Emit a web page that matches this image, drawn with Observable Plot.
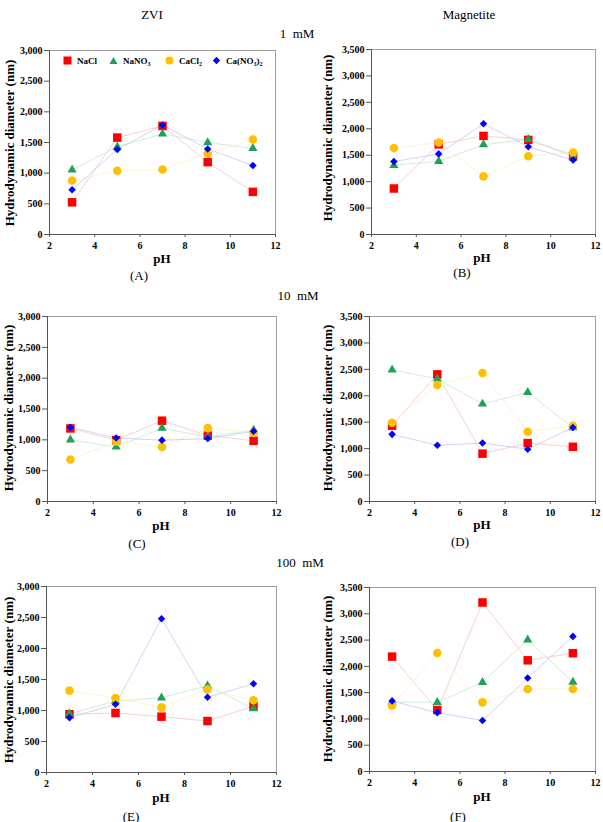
<!DOCTYPE html>
<html><head><meta charset="utf-8">
<script src="https://cdn.jsdelivr.net/npm/d3@7"></script>
<script src="https://cdn.jsdelivr.net/npm/@observablehq/plot@0.6"></script>
<style>
body{margin:0;background:#fff;}
#root{position:relative;width:603px;height:822px;overflow:hidden;font-family:"Liberation Serif","Times New Roman",serif;color:#000;}
#root svg text{font-family:"Liberation Serif","Times New Roman",serif !important;}
.t{position:absolute;transform:translate(-50%,-50%);white-space:nowrap;line-height:1;width:max-content;}
.yl{position:absolute;transform:translate(-50%,-50%) rotate(-90deg);white-space:nowrap;width:max-content;font-weight:bold;font-size:13px;line-height:1;}
.p{position:absolute;}
.leg{position:absolute;font-weight:bold;font-size:9px;white-space:nowrap;line-height:1;width:max-content;}
</style></head><body><div id="root"></div>
<script>
// ---- data ----
const pH = [3, 5, 7, 9, 11];
const salts = ["NaCl", "NaNO3", "CaCl2", "Ca(NO3)2"];
const saltColors = ["#ff0000", "#1ea152", "#ffc000", "#0000ff"];
const lineColors = ["#f8c4c4", "#c2e8cf", "#fff0c6", "#c6c6f6"];
const panelLabels = ["(A)", "(B)", "(C)", "(D)", "(E)", "(F)"];
const columnTitles = ["ZVI", "Magnetite"];
const rowTitles = ["1  mM", "10  mM", "100  mM"];

// Panel A: ZVI, 1 mM
const A_NaCl = [525, 1580, 1770, 1180, 695];
const A_NaNO3 = [1055, 1430, 1640, 1500, 1405];
const A_CaCl2 = [880, 1040, 1060, 1320, 1550];
const A_CaNO32 = [730, 1385, 1785, 1395, 1125];
// Panel B: Magnetite, 1 mM
const B_NaCl = [870, 1705, 1865, 1790, 1480];
const B_NaNO3 = [1310, 1385, 1700, 1800, 1500];
const B_CaCl2 = [1635, 1740, 1100, 1480, 1550];
const B_CaNO32 = [1380, 1525, 2095, 1660, 1410];
// Panel C: ZVI, 10 mM
const C_NaCl = [1185, 995, 1310, 1070, 985];
const C_NaNO3 = [1000, 885, 1190, 1045, 1160];
const C_CaCl2 = [680, 975, 885, 1190, 1115];
const C_CaNO32 = [1205, 1030, 995, 1020, 1140];
// Panel D: Magnetite, 10 mM
const D_NaCl = [1435, 2405, 905, 1105, 1035];
const D_NaNO3 = [2490, 2320, 1845, 2065, 1400];
const D_CaCl2 = [1490, 2205, 2430, 1320, 1430];
const D_CaNO32 = [1270, 1065, 1105, 990, 1400];
// Panel E: ZVI, 100 mM
const E_NaCl = [940, 960, 900, 830, 1070];
const E_NaNO3 = [945, 1150, 1205, 1400, 1030];
const E_CaCl2 = [1320, 1200, 1050, 1340, 1165];
const E_CaNO32 = [885, 1100, 2480, 1215, 1430];
// Panel F: Magnetite, 100 mM
const F_NaCl = [2185, 1170, 3215, 2115, 2250];
const F_NaNO3 = [1320, 1315, 1695, 2505, 1700];
const F_CaCl2 = [1250, 2255, 1315, 1570, 1570];
const F_CaNO32 = [1340, 1120, 970, 1780, 2570];

const xTicks = [2, 4, 6, 8, 10, 12];
const symbols = ["square", "triangle", "circle", "diamond2"];
const symR = [4.8, 3.4, 4.3, 3.4];

const root = document.getElementById("root");
const FONT = "'Liberation Serif','Times New Roman',serif";

function addText(txt, x, y, size, bold, cls) {
  const d = document.createElement("div");
  d.className = cls || "t";
  d.style.left = x + "px"; d.style.top = y + "px";
  if (size) d.style.fontSize = size + "px";
  if (bold) d.style.fontWeight = "bold";
  d.innerHTML = txt;
  root.appendChild(d);
  return d;
}

function panel(series, ymax, g) {
  const rows = [];
  series.forEach((arr, i) => arr.forEach((v, j) => rows.push({pH: pH[j], d: v, s: i})));
  const marks = [
    Plot.frame({stroke: "#a0a0a0", strokeWidth: 1}),
    Plot.ruleX([2], {stroke: "#555", strokeWidth: 1}),
    Plot.ruleY([0], {stroke: "#555", strokeWidth: 1}),
    Plot.axisY({ticks: d3.range(0, ymax + 1, 500), tickFormat: d3.format(","), tickSize: 5, tickPadding: 2,
      fontWeight: "bold", fontSize: 10, label: null, stroke: "#555", fontFamily: FONT}),
    Plot.axisX({ticks: xTicks, tickSize: 3, tickPadding: 4, fontWeight: "bold", fontSize: 10, label: null, stroke: "#555", fontFamily: FONT})
  ];
  series.forEach((arr, i) => {
    const dd = rows.filter(r => r.s === i);
    marks.push(Plot.line(dd, {x: "pH", y: "d", stroke: lineColors[i], strokeWidth: 0.8}));
  });
  series.forEach((arr, i) => {
    const dd = rows.filter(r => r.s === i);
    marks.push(Plot.dot(dd, {x: "pH", y: "d", symbol: () => symbols[i], r: symR[i], fill: saltColors[i], stroke: "none"}));
  });
  const svg = Plot.plot({
    width: g.w, height: 230,
    marginLeft: g.ml, marginRight: g.mr, marginTop: g.mt, marginBottom: g.mb,
    style: `font-family: ${FONT}; color: #000; background: transparent; overflow: visible;`,
    x: {domain: [2, 12]},
    y: {domain: [0, ymax]},
    symbol: {type: "identity"},
    marks
  });
  const wrap = document.createElement("div");
  wrap.className = "p";
  wrap.style.left = g.left + "px"; wrap.style.top = g.top + "px";
  wrap.appendChild(svg);
  root.appendChild(wrap);
}

const geoms = [
  {left: 0, top: 40, w: 300, ml: 49, mr: 25, mt: 10, mb: 36},
  {left: 300, top: 40, w: 303, ml: 71, mr: 8, mt: 9, mb: 36},
  {left: 0, top: 305, w: 300, ml: 47, mr: 24, mt: 11, mb: 34},
  {left: 300, top: 305, w: 303, ml: 69, mr: 8, mt: 11, mb: 34},
  {left: 0, top: 576, w: 300, ml: 46, mr: 24, mt: 10, mb: 34},
  {left: 300, top: 576, w: 303, ml: 69, mr: 8, mt: 11, mb: 35}
];
const panelData = [
  [A_NaCl, A_NaNO3, A_CaCl2, A_CaNO32],
  [B_NaCl, B_NaNO3, B_CaCl2, B_CaNO32],
  [C_NaCl, C_NaNO3, C_CaCl2, C_CaNO32],
  [D_NaCl, D_NaNO3, D_CaCl2, D_CaNO32],
  [E_NaCl, E_NaNO3, E_CaCl2, E_CaNO32],
  [F_NaCl, F_NaNO3, F_CaCl2, F_CaNO32]
];
const ymaxes = [3000, 3500, 3000, 3500, 3000, 3500];
panelData.forEach((s, k) => panel(s, ymaxes[k], geoms[k]));

// titles
addText(columnTitles[0], 152, 14, 13);
addText(columnTitles[1], 469, 14, 13);
addText(rowTitles[0].replace(/ /g, "&nbsp;"), 297, 33, 13);
addText(rowTitles[1].replace(/ /g, "&nbsp;"), 298, 295, 13);
addText(rowTitles[2].replace(/ /g, "&nbsp;"), 300, 562, 13);

// y labels, pH labels, panel labels
const yLab = "Hydrodynamic&nbsp;diameter&nbsp;(nm)";
[[9, 143], [327, 138], [8, 408], [327, 408], [8, 680], [327, 679]].forEach(([x, y]) => addText(yLab, x, y, null, false, "yl"));
[[162, 258], [482, 257], [161, 525], [482, 524], [161, 797], [482, 796]].forEach(([x, y]) => addText("pH", x, y, 13, true));
[[139, 275], [462, 272], [137, 543], [460, 541], [131, 816], [458, 816]].forEach(([x, y], k) => addText(panelLabels[k], x, y, 13));

// legend (panel A)
const sub = s => `<sub style='font-size:6px;vertical-align:-2px'>${s}</sub>`;
const legNames = ["NaCl", "NaNO" + sub(3), "CaCl" + sub(2), "Ca(NO" + sub(3) + ")" + sub(2)];
const legSym = [
  "<rect x='0.5' y='0.5' width='8' height='8'/>",
  "<path d='M4.5,1 L8.5,8 L0.5,8 Z'/>",
  "<circle cx='4.5' cy='4.5' r='4'/>",
  "<path d='M4.5,0.8 L8.2,4.5 L4.5,8.2 L0.8,4.5 Z'/>"
];
const legX = [63, 109, 165, 212];
legNames.forEach((n, i) => {
  const d = document.createElement("div");
  d.className = "leg";
  d.style.left = legX[i] + "px"; d.style.top = "56px";
  d.innerHTML = `<svg width="9" height="9" style="vertical-align:-1px;fill:${saltColors[i]}">${legSym[i]}</svg><span style="margin-left:5px">${n}</span>`;
  root.appendChild(d);
});
</script></body></html>
